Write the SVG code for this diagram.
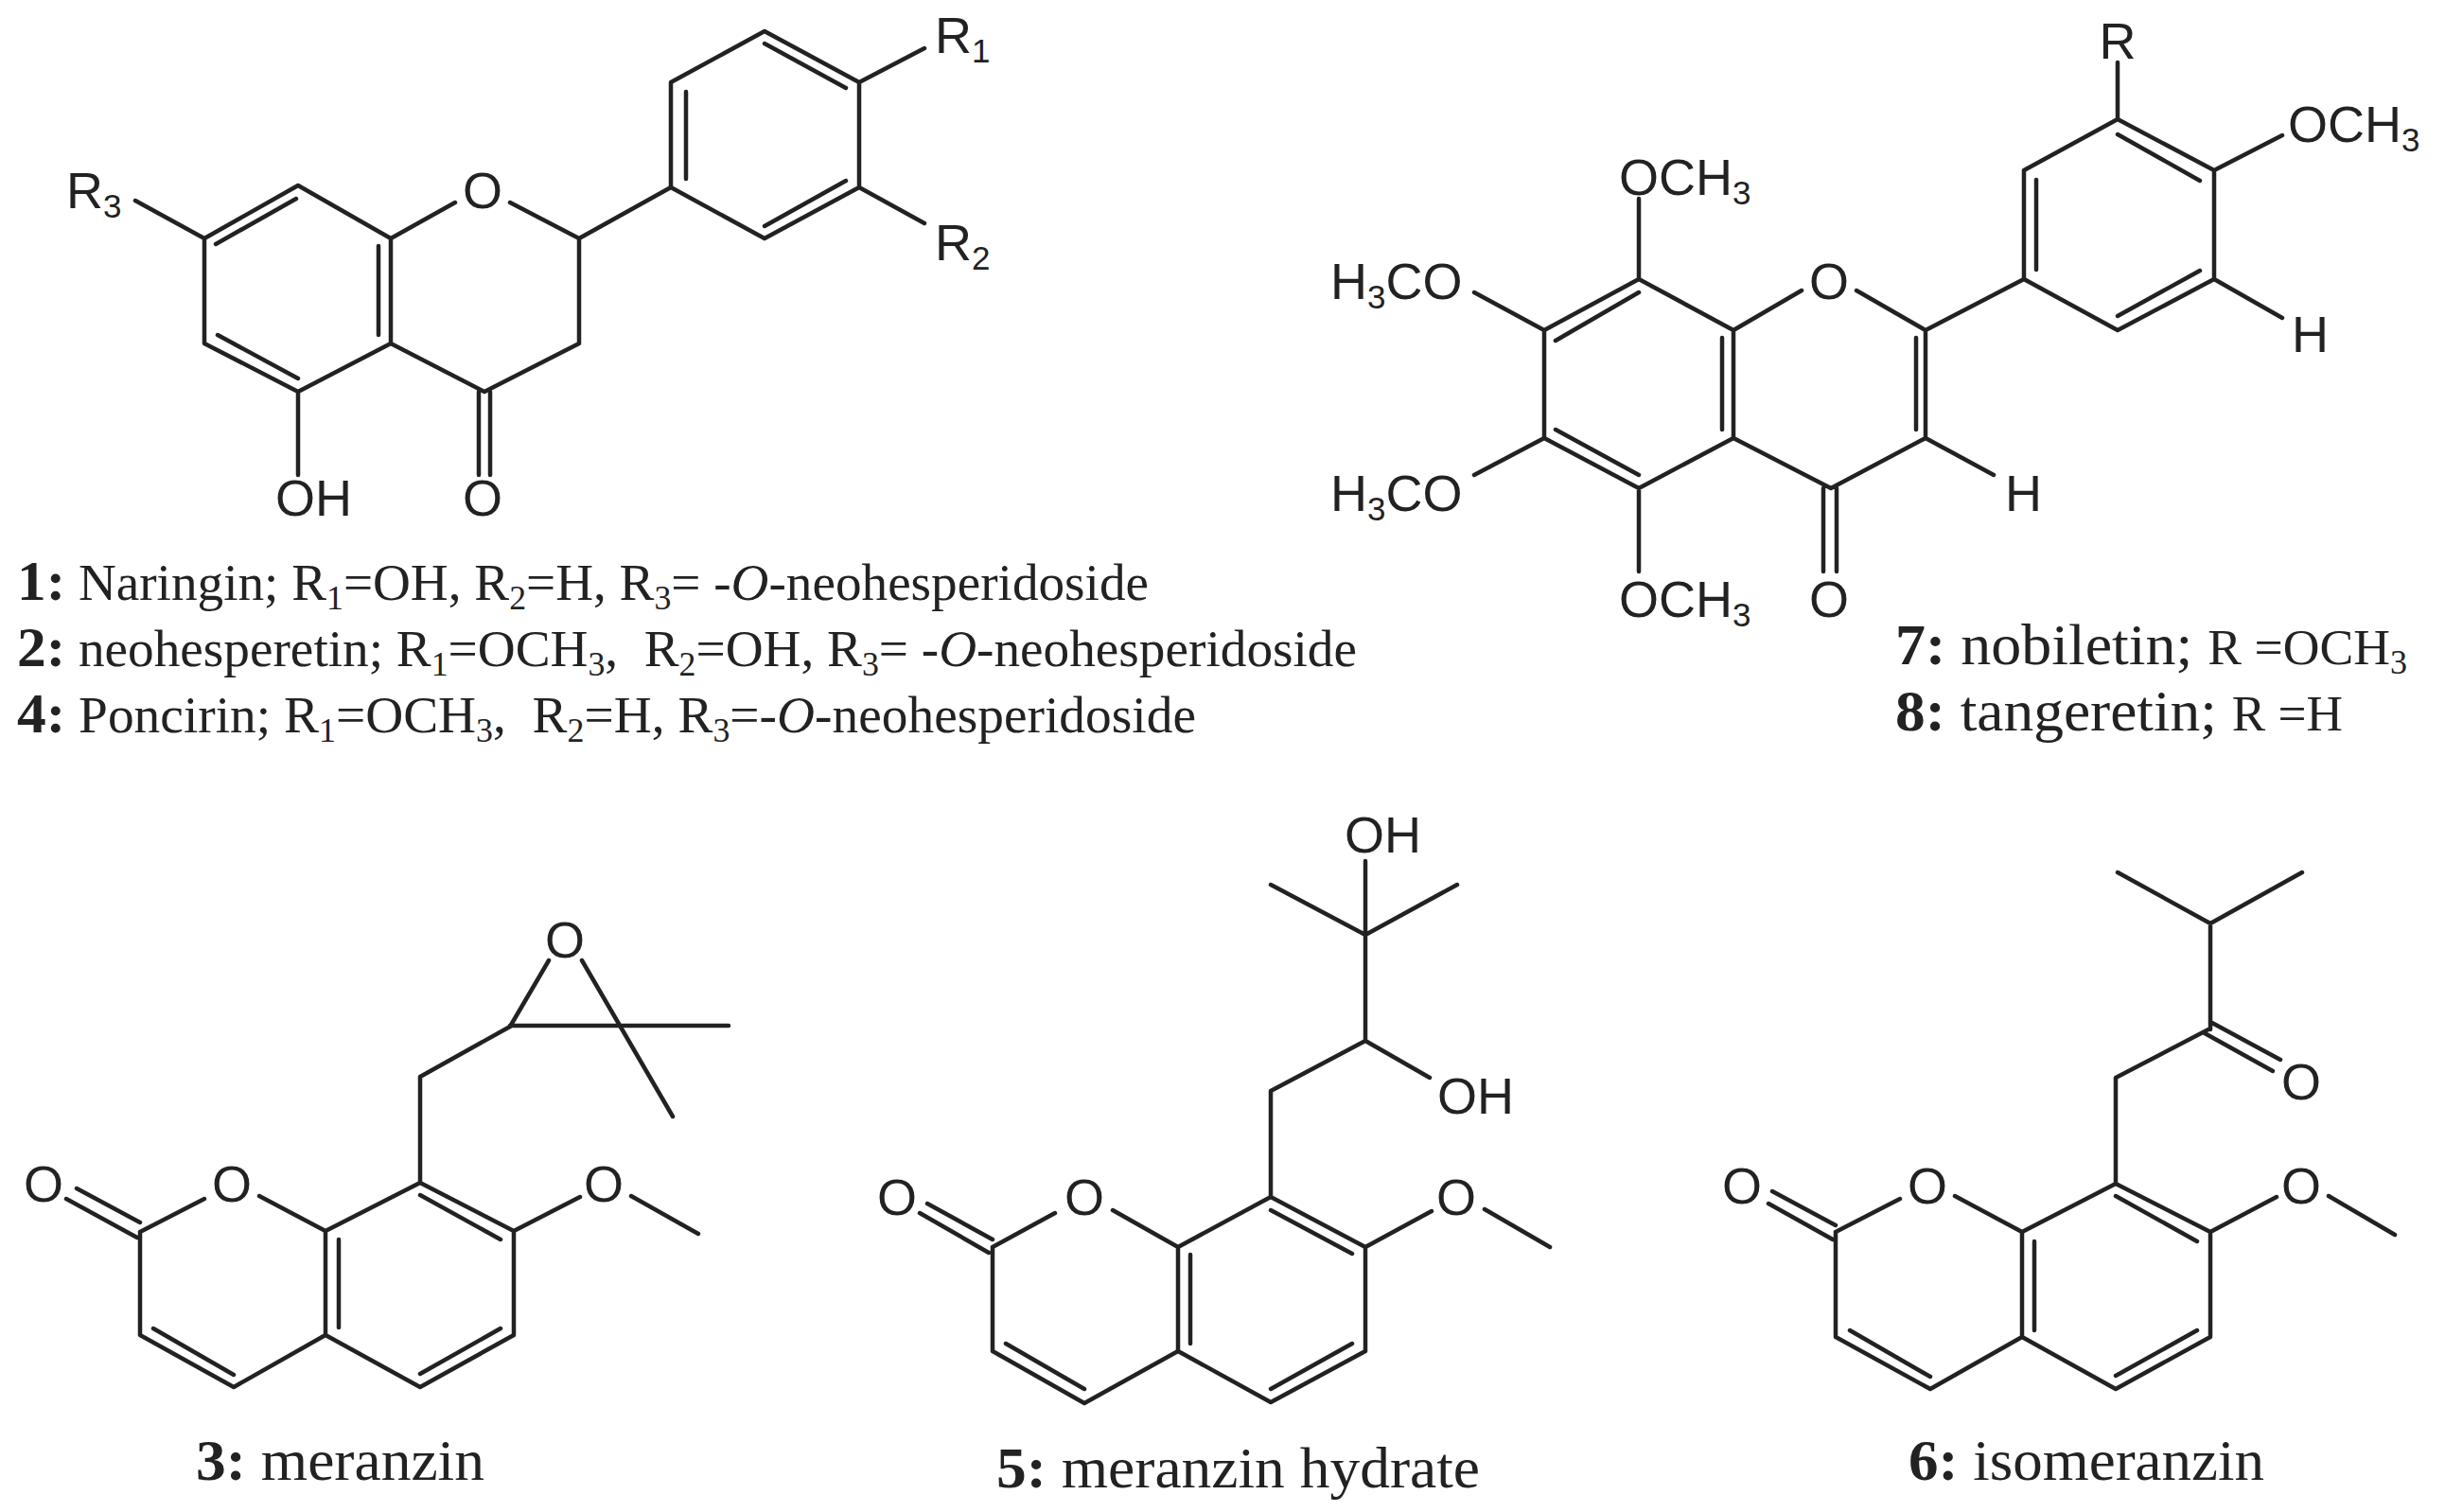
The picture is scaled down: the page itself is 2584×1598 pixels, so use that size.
<svg xmlns="http://www.w3.org/2000/svg" width="2584" height="1598" viewBox="0 0 2584 1598">
<style>
.b{fill:none;stroke:#222;stroke-width:4.5;stroke-linecap:round;stroke-linejoin:round}
.a{font-family:"Liberation Sans",Arial,sans-serif;font-size:54px;fill:#222}
.s{font-size:35px}
.c{font-family:"Liberation Serif","Times New Roman",serif;font-size:54px;fill:#222}
.c .n{font-weight:bold;font-size:60px}
.c .u{font-size:35px}
.l{font-size:62px}
.l .n{font-size:62px}
.c .r{font-size:52px}
.m{text-anchor:middle}
</style>
<rect width="2584" height="1598" fill="#fff"/>
<g id="compound-1">
<path class="b" d="M808 33L709 87V198L808 252L908 198V87ZM808 46L894 93M725 97V189M808 239L894 191M908 87L977 51M908 198L977 236M709 198L612 252L539 214M481 214L413 252L315 196L216 252V363L315 414L413 363V252M612 252V363L512 414L413 363M313 210L228 258M400 260V354M230 354L315 400M216 252L143 212M315 414V502M506 414V502M518 414V502"/>
<text class="a" x="988" y="56">R<tspan class="s" dy="10">1</tspan></text>
<text class="a" x="988" y="275">R<tspan class="s" dy="10">2</tspan></text>
<text class="a" x="70" y="220">R<tspan class="s" dy="10">3</tspan></text>
<text class="a m" x="510" y="220">O</text>
<text class="a" x="291" y="545">OH</text>
<text class="a m" x="510" y="545">O</text>
<text class="c" x="18" y="634" textLength="1196" lengthAdjust="spacingAndGlyphs"><tspan class="n">1:</tspan> Naringin; R<tspan class="u" dy="10">1</tspan><tspan dy="-10">=OH, R</tspan><tspan class="u" dy="10">2</tspan><tspan dy="-10">=H, R</tspan><tspan class="u" dy="10">3</tspan><tspan dy="-10">= -</tspan><tspan font-style="italic">O</tspan>-neohesperidoside</text>
<text class="c" x="18" y="704" textLength="1416" lengthAdjust="spacingAndGlyphs"><tspan class="n">2:</tspan> neohesperetin; R<tspan class="u" dy="10">1</tspan><tspan dy="-10">=OCH</tspan><tspan class="u" dy="10">3</tspan><tspan dy="-10" xml:space="preserve">,  R</tspan><tspan class="u" dy="10">2</tspan><tspan dy="-10">=OH, R</tspan><tspan class="u" dy="10">3</tspan><tspan dy="-10">= -</tspan><tspan font-style="italic">O</tspan>-neohesperidoside</text>
<text class="c" x="18" y="774" textLength="1246" lengthAdjust="spacingAndGlyphs"><tspan class="n">4:</tspan> Poncirin; R<tspan class="u" dy="10">1</tspan><tspan dy="-10">=OCH</tspan><tspan class="u" dy="10">3</tspan><tspan dy="-10" xml:space="preserve">,  R</tspan><tspan class="u" dy="10">2</tspan><tspan dy="-10">=H, R</tspan><tspan class="u" dy="10">3</tspan><tspan dy="-10">=-</tspan><tspan font-style="italic">O</tspan>-neohesperidoside</text>
</g>
<g id="compound-7-8">
<path class="b" d="M2238 126L2139 180V295L2238 349L2340 295V180ZM2238 142L2325 191M2152 190V285M2238 334L2325 286M2238 126V66M2340 180L2412 143M2340 295L2412 336M2139 295L2035 349L1962 307M1904 307L1832 349L1732 295L1632 349V463L1732 516L1832 463V349M1832 463L1935 516L2035 463V349M1732 309L1644 360M1820 357V454M1644 454L1732 502M2025 357V454M2035 463L2107 502M1927 516V604M1941 516V604M1732 295V210M1732 516V604M1632 349L1558 309M1632 463L1558 502"/>
<text class="a m" x="2238" y="62">R</text>
<text class="a" x="2418" y="150">OCH<tspan class="s" dy="10">3</tspan></text>
<text class="a" x="2422" y="372">H</text>
<text class="a m" x="1933" y="316">O</text>
<text class="a" x="2119" y="540">H</text>
<text class="a m" x="1933" y="652">O</text>
<text class="a" x="1711" y="206">OCH<tspan class="s" dy="10">3</tspan></text>
<text class="a" x="1711" y="652">OCH<tspan class="s" dy="10">3</tspan></text>
<text class="a" x="1406" y="316">H<tspan class="s" dy="10">3</tspan><tspan dy="-10">CO</tspan></text>
<text class="a" x="1406" y="540">H<tspan class="s" dy="10">3</tspan><tspan dy="-10">CO</tspan></text>
<text class="c l" x="2003" y="702" textLength="541" lengthAdjust="spacingAndGlyphs"><tspan class="n">7:</tspan> nobiletin; <tspan class="r">R =OCH</tspan><tspan class="u" dy="10">3</tspan></text>
<text class="c l" x="2003" y="772" textLength="473" lengthAdjust="spacingAndGlyphs"><tspan class="n">8:</tspan> tangeretin; <tspan class="r">R =H</tspan></text>
</g>
<g id="compound-3">
<path class="b" d="M81 1256L148 1292M70 1267L145 1308M148 1302L216 1267M274 1264L344 1301L444 1250L543 1301V1411L444 1466L344 1411V1301M344 1411L247 1466L148 1411V1302M444 1263L529 1310M358 1310V1403M444 1452L529 1404M162 1404L247 1453M543 1301L613 1265M667 1264L738 1304M444 1250V1138L539 1085L580 1015M615 1015L711 1180"/>
<path class="b" d="M539 1084H770"/>
<text class="a m" x="46" y="1270">O</text>
<text class="a m" x="245" y="1270">O</text>
<text class="a m" x="638" y="1270">O</text>
<text class="a m" x="597" y="1012">O</text>
<text class="c l" x="207" y="1564" textLength="305" lengthAdjust="spacingAndGlyphs"><tspan class="n">3:</tspan> meranzin</text>
</g>
<g id="compound-5">
<path class="b" d="M980 1272L1049 1310M972 1282L1045 1324M1049 1318L1115 1282M1176 1279L1245 1318L1343 1265L1443 1318V1428L1343 1482L1245 1428V1318M1245 1428L1146 1483L1049 1428V1318M1063 1420L1146 1468M1258 1326V1420M1343 1279L1429 1325M1343 1468L1429 1420M1443 1318L1513 1280M1569 1278L1638 1318M1343 1265V1153L1443 1100L1511 1139M1443 1100V910M1343 935L1443 988L1540 935"/>
<text class="a m" x="948" y="1284">O</text>
<text class="a m" x="1146" y="1284">O</text>
<text class="a m" x="1539" y="1284">O</text>
<text class="a" x="1519" y="1177">OH</text>
<text class="a" x="1421" y="901">OH</text>
<text class="c l" x="1053" y="1572" textLength="511" lengthAdjust="spacingAndGlyphs"><tspan class="n">5:</tspan> meranzin hydrate</text>
</g>
<g id="compound-6">
<path class="b" d="M1873 1259L1940 1295M1869 1272L1937 1310M1940 1302L2008 1267M2066 1264L2137 1302L2236 1251L2336 1302V1413L2236 1468L2137 1413V1302M2137 1413L2040 1468L1940 1413V1302M2236 1264L2322 1312M2236 1454L2322 1406M1955 1406L2040 1455M2150 1312V1406M2336 1302L2406 1265M2461 1264L2531 1305M2236 1251V1139L2334 1088M2336 1080L2410 1120M2330 1092L2402 1132M2336 1088V976M2238 922L2336 976L2433 922"/>
<text class="a m" x="1841" y="1272">O</text>
<text class="a m" x="2037" y="1272">O</text>
<text class="a m" x="2432" y="1272">O</text>
<text class="a m" x="2432" y="1162">O</text>
<text class="c l" x="2017" y="1564" textLength="376" lengthAdjust="spacingAndGlyphs"><tspan class="n">6:</tspan> isomeranzin</text>
</g>
</svg>
